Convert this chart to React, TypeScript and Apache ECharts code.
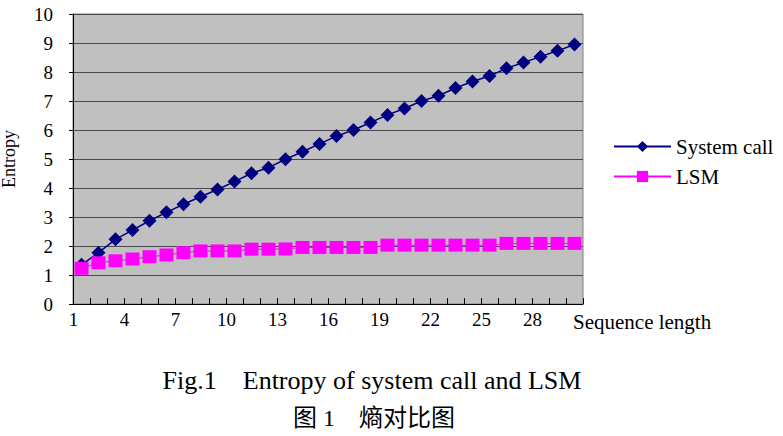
import React, { useEffect, useRef } from "react";
import * as echarts from "echarts";

const categories: string[] = Array.from({ length: 30 }, (_, i) => String(i + 1));
const systemCall: number[] = [
  1.35, 1.77, 2.23, 2.55, 2.87, 3.16, 3.44, 3.7, 3.95, 4.22,
  4.51, 4.7, 4.99, 5.25, 5.52, 5.79, 6.0, 6.26, 6.52, 6.74,
  7.0, 7.18, 7.45, 7.67, 7.86, 8.13, 8.33, 8.53, 8.73, 8.95,
];
const lsm: number[] = [
  1.23, 1.42, 1.49, 1.55, 1.63, 1.69, 1.77, 1.83, 1.83, 1.83,
  1.89, 1.89, 1.9, 1.95, 1.95, 1.95, 1.95, 1.95, 2.03, 2.03,
  2.03, 2.03, 2.03, 2.03, 2.03, 2.09, 2.09, 2.09, 2.09, 2.09,
];
const seriesNames = ["System call", "LSM"];
const xName = "Sequence length";
const yName = "Entropy";
const caption1 = "Fig.1    Entropy of system call and LSM";
const caption2 = "图 1    熵对比图";

const SERIF = "Liberation Serif";

export default function App() {
  const ref = useRef<HTMLDivElement>(null);
  useEffect(() => {
    if (!ref.current) return;
    const chart = echarts.init(ref.current, null, { renderer: "svg" });
    chart.setOption({
      animation: false,
      backgroundColor: "#ffffff",
      textStyle: { fontFamily: SERIF, color: "#000" },
      grid: {
        left: 73,
        right: 200,
        top: 14,
        bottom: 132,
        show: true,
        backgroundColor: "#c0c0c0",
        borderColor: "#808080",
        borderWidth: 1,
        containLabel: false,
        outerBoundsMode: "none",
      },
      legend: {
        orient: "vertical",
        left: 613,
        top: 136,
        padding: 0,
        itemWidth: 57,
        itemHeight: 14,
        itemGap: 9,
        textStyle: { fontFamily: SERIF, fontSize: 21, color: "#000" },
        data: seriesNames,
      },
      xAxis: {
        type: "category",
        data: categories,
        boundaryGap: true,
        name: xName,
        nameLocation: "end",
        nameGap: -10,
        nameTextStyle: {
          fontFamily: SERIF,
          fontSize: 21,
          color: "#000",
          align: "left",
          verticalAlign: "top",
          padding: [7, 0, 0, 0],
        },
        axisLine: { show: true, lineStyle: { color: "#000", width: 1 } },
        axisTick: { show: true, inside: true, length: 6, interval: 0, lineStyle: { color: "#000" } },
        axisLabel: {
          interval: 2,
          margin: 6,
          fontSize: 19,
          fontFamily: SERIF,
          color: "#000",
          padding: [0, 16, 0, 0],
        },
        splitLine: { show: false },
      },
      yAxis: {
        type: "value",
        min: 0,
        max: 10,
        interval: 1,
        name: yName,
        nameLocation: "middle",
        nameRotate: 90,
        nameGap: 55,
        nameTextStyle: { fontFamily: SERIF, fontSize: 18, color: "#000" },
        axisLine: { show: true, lineStyle: { color: "#000", width: 1 } },
        axisTick: { show: true, inside: false, length: 4, lineStyle: { color: "#000" } },
        axisLabel: { margin: 20, fontSize: 19, fontFamily: SERIF, color: "#000" },
        splitLine: { show: true, lineStyle: { color: "#4a4a4a", width: 1 } },
      },
      series: [
        {
          name: seriesNames[0],
          type: "line",
          data: systemCall,
          symbol: "diamond",
          symbolSize: 14,
          showSymbol: true,
          showAllSymbol: true,
          itemStyle: { color: "#000080" },
          lineStyle: { color: "#000080", width: 1.5 },
        },
        {
          name: seriesNames[1],
          type: "line",
          data: lsm,
          symbol: "rect",
          symbolSize: [14, 13],
          showSymbol: true,
          showAllSymbol: true,
          itemStyle: { color: "#ff00ff" },
          lineStyle: { color: "#ff00ff", width: 1 },
        },
      ],
      graphic: [
        {
          type: "text",
          x: 372,
          y: 380,
          style: {
            text: caption1,
            fontFamily: SERIF,
            fontSize: 26,
            fill: "#000",
            align: "center",
            verticalAlign: "middle",
          },
        },
        {
          type: "text",
          x: 374,
          y: 418,
          style: {
            text: caption2,
            fontFamily: "Liberation Serif, Noto Sans CJK SC",
            fontSize: 24,
            fill: "#000",
            align: "center",
            verticalAlign: "middle",
          },
        },
      ],
    });
    return () => chart.dispose();
  }, []);
  return <div ref={ref} style={{ width: 783, height: 436, position: "absolute", left: 0, top: 0 }} />;
}
